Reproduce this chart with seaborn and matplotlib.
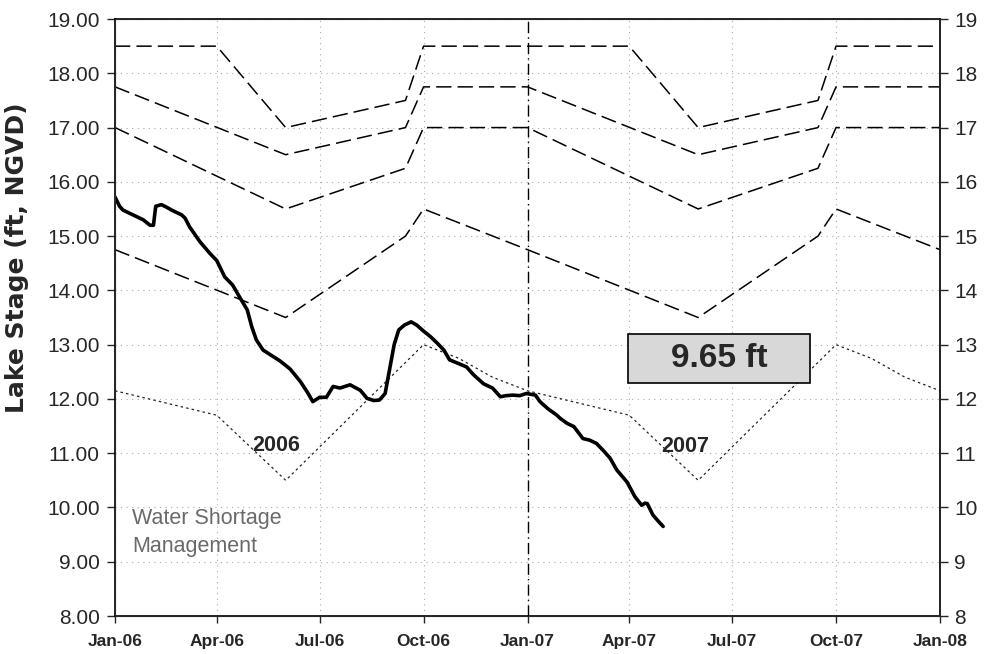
import pandas as pd
import matplotlib
matplotlib.use("Agg")
import matplotlib.pyplot as plt
import matplotlib.dates as mdates
from matplotlib.patches import Rectangle
import seaborn as sns

## Data
stage_dates = [
    "2006-01-01", "2006-01-05", "2006-01-08", "2006-01-14", "2006-01-20", "2006-01-26",
    "2006-02-01", "2006-02-04", "2006-02-06", "2006-02-11", "2006-02-15", "2006-02-20",
    "2006-03-01", "2006-03-04", "2006-03-08", "2006-03-17", "2006-03-26", "2006-04-01",
    "2006-04-08", "2006-04-15", "2006-04-22", "2006-04-28", "2006-05-02", "2006-05-06",
    "2006-05-12", "2006-05-21", "2006-05-27", "2006-06-05", "2006-06-14", "2006-06-20",
    "2006-06-25", "2006-07-01", "2006-07-07", "2006-07-13", "2006-07-19", "2006-07-28",
    "2006-08-06", "2006-08-12", "2006-08-18", "2006-08-23", "2006-08-28", "2006-09-01",
    "2006-09-05", "2006-09-09", "2006-09-14", "2006-09-20", "2006-09-25", "2006-10-01",
    "2006-10-07", "2006-10-13", "2006-10-19", "2006-10-24", "2006-10-31", "2006-11-08",
    "2006-11-14", "2006-11-23", "2006-12-01", "2006-12-08", "2006-12-13", "2006-12-19",
    "2006-12-25", "2006-12-31", "2007-01-08", "2007-01-12", "2007-01-19", "2007-01-27",
    "2007-01-30", "2007-02-05", "2007-02-11", "2007-02-15", "2007-02-19", "2007-02-25",
    "2007-03-03", "2007-03-09", "2007-03-15", "2007-03-21", "2007-03-30", "2007-04-06",
    "2007-04-12", "2007-04-15", "2007-04-17", "2007-04-22", "2007-04-27", "2007-05-01",
]
stage_ft = [
    15.72, 15.55, 15.48, 15.42, 15.36, 15.30,
    15.20, 15.20, 15.55, 15.58, 15.54, 15.48,
    15.39, 15.33, 15.17, 14.90, 14.68, 14.55,
    14.25, 14.10, 13.85, 13.64, 13.33, 13.09,
    12.90, 12.78, 12.70, 12.55, 12.32, 12.13,
    11.95, 12.03, 12.03, 12.23, 12.20, 12.26,
    12.16, 12.01, 11.97, 11.98, 12.10, 12.55,
    13.00, 13.27, 13.36, 13.42, 13.36, 13.25,
    13.15, 13.03, 12.90, 12.72, 12.66, 12.59,
    12.45, 12.28, 12.20, 12.04, 12.06, 12.07,
    12.06, 12.10, 12.07, 11.95, 11.82, 11.70,
    11.64, 11.55, 11.49, 11.38, 11.27, 11.24,
    11.18, 11.05, 10.91, 10.69, 10.47, 10.20,
    10.04, 10.08, 10.07, 9.86, 9.74, 9.65,
]

# regulation schedule lines
top_dates = ["2006-01-01", "2006-04-01", "2006-06-01", "2006-09-15", "2006-10-01",
             "2007-01-01", "2007-04-01", "2007-06-01", "2007-09-15", "2007-10-01", "2008-01-01"]
top_ft = [18.5, 18.5, 17.0, 17.5, 18.5, 18.5, 18.5, 17.0, 17.5, 18.5, 18.5]

band_dates = ["2006-01-01", "2006-06-01", "2006-09-15", "2006-10-01",
              "2007-01-01", "2007-06-01", "2007-09-15", "2007-10-01", "2008-01-01"]
band2_ft = [17.75, 16.5, 17.0, 17.75, 17.75, 16.5, 17.0, 17.75, 17.75]
band3_ft = [17.0, 15.5, 16.25, 17.0, 17.0, 15.5, 16.25, 17.0, 17.0]
band4_ft = [14.75, 13.5, 15.0, 15.5, 14.75, 13.5, 15.0, 15.5, 14.75]

wsm_dates = ["2006-01-01", "2006-04-01", "2006-06-01", "2006-10-01", "2006-11-01", "2006-12-01",
             "2007-01-01", "2007-04-01", "2007-06-01", "2007-10-01", "2007-11-01", "2007-12-01",
             "2008-01-01"]
wsm_ft = [12.15, 11.7, 10.5, 13.0, 12.75, 12.4, 12.15, 11.7, 10.5, 13.0, 12.75, 12.4, 12.15]

year_split = "2007-01-01"
current_label = "9.65 ft"

stage = pd.DataFrame({"date": pd.to_datetime(stage_dates), "ft": stage_ft})
top = pd.DataFrame({"date": pd.to_datetime(top_dates), "ft": top_ft})
bands = [pd.DataFrame({"date": pd.to_datetime(band_dates), "ft": v})
         for v in (band2_ft, band3_ft, band4_ft)]
wsm = pd.DataFrame({"date": pd.to_datetime(wsm_dates), "ft": wsm_ft})

## Plot
sns.set_style("ticks")
plt.rcParams["font.family"] = ["Liberation Sans", "DejaVu Sans"]

fig = plt.figure(figsize=(9.84, 6.54), dpi=100)
ax = fig.add_axes([0.1169, 0.0581, 0.8384, 0.9128])

dash = (0, (10, 4))
sns.lineplot(data=top, x="date", y="ft", ax=ax, color="black", lw=1.1, linestyle=dash)
for b in bands:
    sns.lineplot(data=b, x="date", y="ft", ax=ax, color="black", lw=1.1, linestyle=dash)
sns.lineplot(data=wsm, x="date", y="ft", ax=ax, color="#222222", lw=0.9, linestyle=(0, (2, 2.5)))
sns.lineplot(data=stage, x="date", y="ft", ax=ax, color="black", lw=2.6)

ax.axvline(pd.Timestamp(year_split), color="black", lw=1.0, linestyle=(0, (8, 3, 1, 3)))

ax.set_xlim(pd.Timestamp("2006-01-01"), pd.Timestamp("2008-01-01"))
ax.set_ylim(8, 19)
ax.set_yticks(range(8, 20))
ax.yaxis.set_major_formatter(plt.FormatStrFormatter("%.2f"))
ax.xaxis.set_major_locator(mdates.MonthLocator(bymonth=[1, 4, 7, 10]))
ax.xaxis.set_major_formatter(mdates.DateFormatter("%b-%y"))
ax.grid(True, color="#aaaaaa", linestyle=(0, (1, 4)), linewidth=0.8)
ax.set_xlabel("")
ax.set_ylabel("Lake Stage (ft, NGVD)", fontsize=18, fontweight="bold",
              family=["DejaVu Sans"])
ax.yaxis.set_label_coords(-0.104, 0.60)
ax.tick_params(axis="y", labelsize=15, length=6, width=1, direction="out", pad=5)
ax.tick_params(axis="x", labelsize=12.5, length=5, width=1, direction="out", pad=8)
for lbl in ax.get_xticklabels():
    lbl.set_fontweight("bold")
for s in ax.spines.values():
    s.set_color("black")
    s.set_linewidth(1.2)

ax2 = ax.twinx()
ax2.set_ylim(8, 19)
ax2.set_yticks(range(8, 20))
ax2.tick_params(axis="y", labelsize=15, length=6, width=1, direction="out", pad=4)
ax2.spines["right"].set_linewidth(1.2)

## Annotations
ax.text(pd.Timestamp("2006-05-24"), 11.15, "2006", fontsize=15.5, fontweight="bold",
        ha="center", va="center")
ax.text(pd.Timestamp("2007-05-21"), 11.13, "2007", fontsize=15.5, fontweight="bold",
        ha="center", va="center")
ax.text(pd.Timestamp("2006-01-16"), 9.54, "Water Shortage\nManagement", fontsize=15.5,
        color="#6a6a6a", ha="left", va="center", linespacing=1.4)

ax.add_patch(Rectangle((0.622, 0.390), 0.220, 0.082, transform=ax.transAxes,
                       facecolor="#d8d8d8", edgecolor="black", lw=1.2, zorder=5))
ax.text(0.732, 0.431, current_label, transform=ax.transAxes, fontsize=24,
        fontweight="bold", ha="center", va="center", zorder=6)

plt.savefig("out.png", dpi=100)
